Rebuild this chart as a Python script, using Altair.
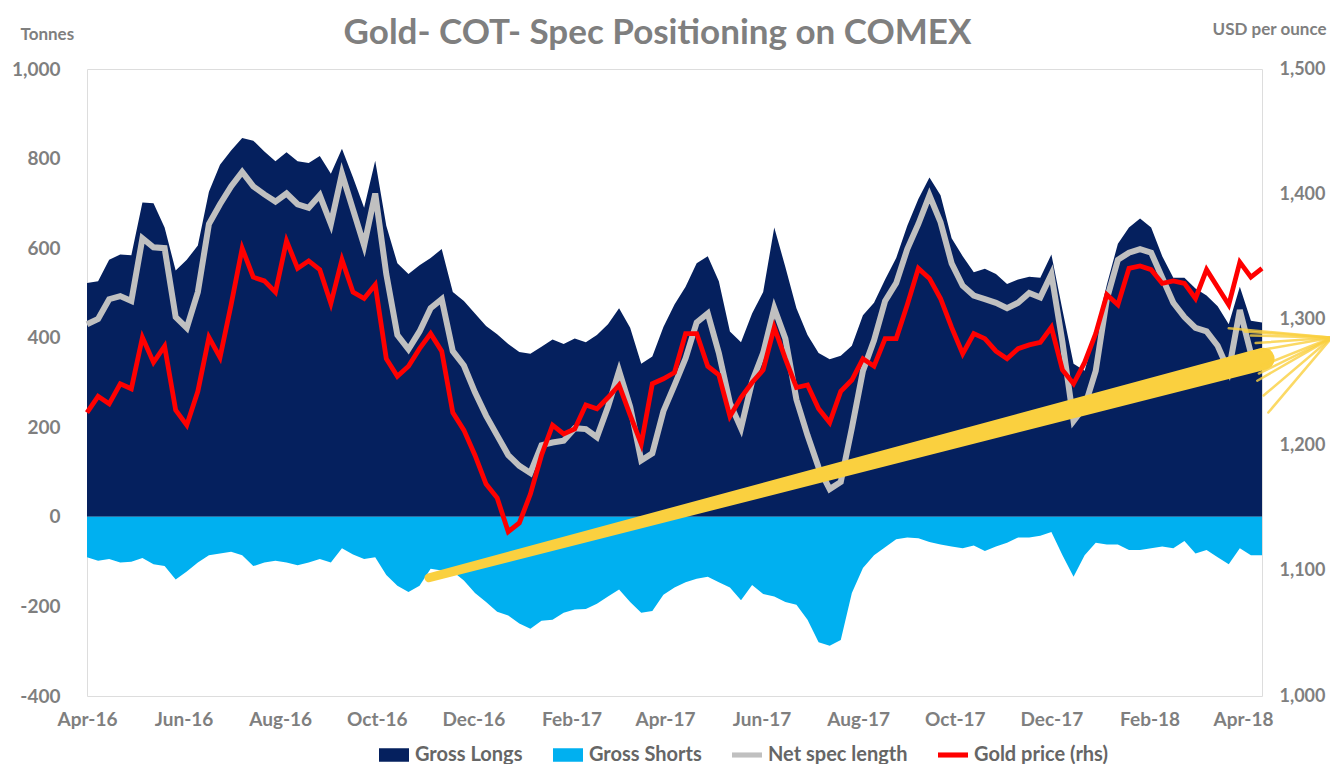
import altair as alt
import pandas as pd

# ---------------- data ----------------
longs = [522, 526, 574, 586, 584, 702, 700, 646, 550, 574,
         606, 726, 786, 818, 846, 840, 816, 794, 814, 794,
         790, 806, 766, 822, 758, 690, 795, 650, 566, 542,
         562, 578, 598, 502, 482, 454, 426, 408, 386, 368,
         364, 380, 396, 386, 398, 390, 406, 430, 466, 422,
         342, 358, 424, 474, 514, 566, 582, 526, 414, 390,
         454, 502, 646, 558, 466, 406, 366, 352, 360, 382,
         450, 478, 530, 578, 650, 710, 758, 718, 622, 582,
         546, 554, 542, 520, 530, 536, 534, 586, 462, 342,
         326, 414, 518, 610, 646, 666, 646, 582, 534, 534,
         510, 494, 470, 430, 514, 438, 434]

shorts = [-90, -98, -94, -102, -100, -92, -106, -110, -140, -122,
          -102, -86, -82, -78, -86, -110, -102, -98, -102, -108,
          -102, -94, -102, -70, -84, -94, -90, -130, -154, -168,
          -154, -116, -120, -122, -142, -170, -190, -212, -220, -238,
          -250, -232, -230, -214, -207, -206, -194, -178, -162, -190,
          -214, -210, -174, -158, -146, -138, -134, -146, -158, -186,
          -152, -172, -178, -190, -196, -230, -280, -288, -275, -170,
          -114, -86, -68, -50, -46, -48, -56, -62, -66, -70,
          -64, -76, -66, -58, -46, -46, -42, -34, -86, -134,
          -86, -58, -62, -62, -74, -74, -70, -66, -70, -54,
          -82, -74, -90, -106, -70, -86, -86]

net = [430, 442, 486, 493, 482, 622, 602, 600, 446, 422,
       502, 654, 698, 738, 770, 738, 720, 704, 722, 698,
       690, 718, 654, 766, 686, 606, 722, 542, 406, 374,
       414, 466, 486, 370, 338, 278, 226, 182, 138, 114,
       98, 160, 166, 170, 198, 196, 178, 246, 326, 246,
       126, 142, 236, 294, 354, 434, 454, 366, 254, 198,
       302, 366, 466, 398, 262, 182, 110, 62, 78, 198,
       326, 394, 482, 522, 598, 654, 718, 658, 566, 516,
       494, 486, 478, 466, 478, 500, 490, 542, 390, 214,
       246, 326, 486, 574, 590, 598, 590, 534, 478, 446,
       422, 414, 382, 326, 462, 365, 350]

gold = [1226, 1239, 1233, 1249, 1245, 1286, 1266, 1279, 1228, 1216,
        1243, 1286, 1270, 1312, 1357, 1334, 1331, 1322, 1363, 1341,
        1347, 1340, 1313, 1348, 1322, 1317, 1328, 1269, 1255, 1263,
        1277, 1289, 1275, 1226, 1212, 1192, 1169, 1158, 1131, 1138,
        1161, 1192, 1216, 1209, 1213, 1232, 1229, 1238, 1248, 1224,
        1201, 1249, 1253, 1258, 1289, 1289, 1263, 1256, 1223, 1238,
        1250, 1260, 1294, 1269, 1246, 1248, 1229, 1218, 1243, 1252,
        1269, 1263, 1285, 1285, 1312, 1341, 1333, 1317, 1294, 1273,
        1289, 1285, 1275, 1269, 1277, 1280, 1282, 1294, 1260, 1249,
        1266, 1289, 1320, 1312, 1341, 1343, 1340, 1329, 1331, 1329,
        1317, 1340, 1326, 1312, 1346, 1334, 1341]

series_names = ["Gross Longs", "Gross Shorts", "Net spec length", "Gold price (rhs)"]
tick_dates = ["2016-04-05", "2016-06-05", "2016-08-05", "2016-10-05", "2016-12-05",
              "2017-02-05", "2017-04-05", "2017-06-05", "2017-08-05", "2017-10-05",
              "2017-12-05", "2018-02-05", "2018-04-05"]
left_ticks = [-400, -200, 0, 200, 400, 600, 800, 1000]
right_ticks = [1000, 1100, 1200, 1300, 1400, 1500]

# hand-drawn yellow arrow annotation (data units: date, tonnes)
arrow_dates = ["2016-11-07", "2018-04-18"]
arrow_vals = [-136, 353]
head_tip_date = "2018-05-31"
head_tip_val = 400
head_base_dates = ["2018-03-27", "2018-04-06", "2018-04-10", "2018-04-13", "2018-04-14",
                   "2018-04-17", "2018-04-15", "2018-04-14", "2018-04-18", "2018-04-21"]
head_base_vals = [421, 414, 405, 388, 371, 338, 320, 304, 271, 233]

# ---------------- styling ----------------
FONT = "Lato"
GREY = "#7f7f7f"
NAVY = "#05205E"
LIGHT = "#00B0F0"
NETC = "#C0C0C0"
RED = "#FF0000"
YELLOW = "#FAD03F"
series_colors = [NAVY, LIGHT, NETC, RED]
series_shapes = ["M-1,-0.45H1V0.45H-1Z", "M-1,-0.45H1V0.45H-1Z",
                 "M-1,-0.17H1V0.17H-1Z", "M-1,-0.17H1V0.17H-1Z"]

dates = pd.date_range("2016-04-05", periods=len(longs), freq="7D").strftime("%Y-%m-%d").tolist()
df = pd.DataFrame({"date": dates, "longs": longs, "shorts": shorts, "net": net, "gold": gold})


def ms(d):
    return int(pd.Timestamp(d).value // 10**6)


x_scale = alt.Scale(type="utc", domain=[ms(dates[0]), ms(dates[-1])])
x_axis = alt.Axis(values=[ms(d) for d in tick_dates],
                  labelExpr="utcFormat(datum.value, '%b-%y')",
                  title=None, domain=False, ticks=False, grid=False,
                  labelFlush=False, labelOverlap=False,
                  labelFont=FONT, labelFontSize=19, labelFontWeight="bold",
                  labelColor=GREY, labelPadding=14)


def X(field="date"):
    return alt.X(f"{field}:T", scale=x_scale, axis=x_axis)


left_scale = alt.Scale(domain=[-400, 1000], nice=False, zero=False)
left_axis = alt.Axis(values=left_ticks, orient="left",
                     labelExpr="datum.value < 0 ? '-' + format(-datum.value, ',') : format(datum.value, ',')",
                     title="Tonnes", titleAngle=0, titleX=-67, titleY=-30,
                     titleAlign="left", titleBaseline="alphabetic",
                     titleFont=FONT, titleFontSize=17, titleFontWeight="bold", titleColor=GREY,
                     domain=False, ticks=False, grid=False,
                     labelFont=FONT, labelFontSize=19, labelFontWeight="bold",
                     labelColor=GREY, labelPadding=27)

right_scale = alt.Scale(domain=[1000, 1500], nice=False, zero=False)
right_axis = alt.Axis(values=right_ticks, orient="right",
                      labelExpr="format(datum.value, ',')",
                      title="USD per ounce", titleAngle=0, titleX=64, titleY=-35,
                      titleAlign="right", titleBaseline="alphabetic",
                      titleFont=FONT, titleFontSize=17, titleFontWeight="bold", titleColor=GREY,
                      domain=False, ticks=False, grid=False,
                      labelFont=FONT, labelFontSize=18, labelFontWeight="bold",
                      labelColor=GREY, labelPadding=17)

base = alt.Chart(df)

longs_area = base.mark_area(color=NAVY).encode(
    x=X(), y=alt.Y("longs:Q", scale=left_scale, axis=left_axis), y2=alt.datum(0))
shorts_area = base.mark_area(color=LIGHT).encode(
    x=X(), y=alt.Y("shorts:Q", scale=left_scale, axis=left_axis), y2=alt.datum(0))
net_line = base.mark_line(color=NETC, strokeWidth=6, strokeJoin="miter").encode(
    x=X(), y=alt.Y("net:Q", scale=left_scale, axis=left_axis))

left = alt.layer(longs_area, shorts_area, net_line)

gold_line = base.mark_line(color=RED, strokeWidth=4.8, strokeJoin="miter").encode(
    x=X(), y=alt.Y("gold:Q", scale=right_scale, axis=right_axis))

arrow_df = pd.DataFrame({"date": arrow_dates, "val": arrow_vals, "pos": [0, 1]})
head_df = pd.DataFrame({"date": head_base_dates, "val": head_base_vals,
                        "tip_date": [head_tip_date] * len(head_base_dates),
                        "tip_val": [head_tip_val] * len(head_base_dates)})

arrow_scale = alt.Scale(domain=[-400, 1000], nice=False, zero=False)
shaft = alt.Chart(arrow_df).mark_trail(color=YELLOW).encode(
    x=X(), y=alt.Y("val:Q", scale=arrow_scale, axis=None),
    size=alt.Size("pos:Q", scale=alt.Scale(domain=[0, 1], range=[9, 22]), legend=None),
    order=alt.Order("pos:Q"))
head = alt.Chart(head_df).mark_rule(color=YELLOW, strokeWidth=2.5, opacity=0.8, strokeCap="round").encode(
    x=X(), y=alt.Y("val:Q", scale=arrow_scale, axis=None),
    x2="tip_date:T", y2="tip_val:Q")

leg = alt.Legend(title=None, orient="none", legendX=292, legendY=671, direction="horizontal",
                 symbolSize=900, symbolStrokeWidth=0, symbolOpacity=1,
                 labelFont=FONT, labelFontSize=20, labelFontWeight="bold", labelColor="#666666",
                 labelOffset=6, columnPadding=30, padding=0, labelLimit=400)
legend_layer = alt.Chart(pd.DataFrame({"series": series_names})).transform_filter("false").mark_point(
    filled=True, opacity=0).encode(
    color=alt.Color("series:N", scale=alt.Scale(domain=series_names, range=series_colors), legend=leg),
    shape=alt.Shape("series:N", scale=alt.Scale(domain=series_names, range=series_shapes), legend=leg))

annot = alt.layer(shaft, head, legend_layer)

chart = alt.layer(left, gold_line, annot).resolve_scale(y="independent").properties(
    width=1175, height=627,
    autosize=alt.AutoSizeParams(type="none"),
    padding={"left": 79, "top": 61, "right": 68, "bottom": 68},
    title=alt.Title("Gold- COT- Spec Positioning on COMEX", font=FONT, fontSize=35,
                    fontWeight="bold", color=GREY, anchor="middle", dx=-17, dy=35),
).configure_view(stroke=None).configure(background="white")

chart.save("out.html", embed_options={"renderer": "svg", "actions": False})
